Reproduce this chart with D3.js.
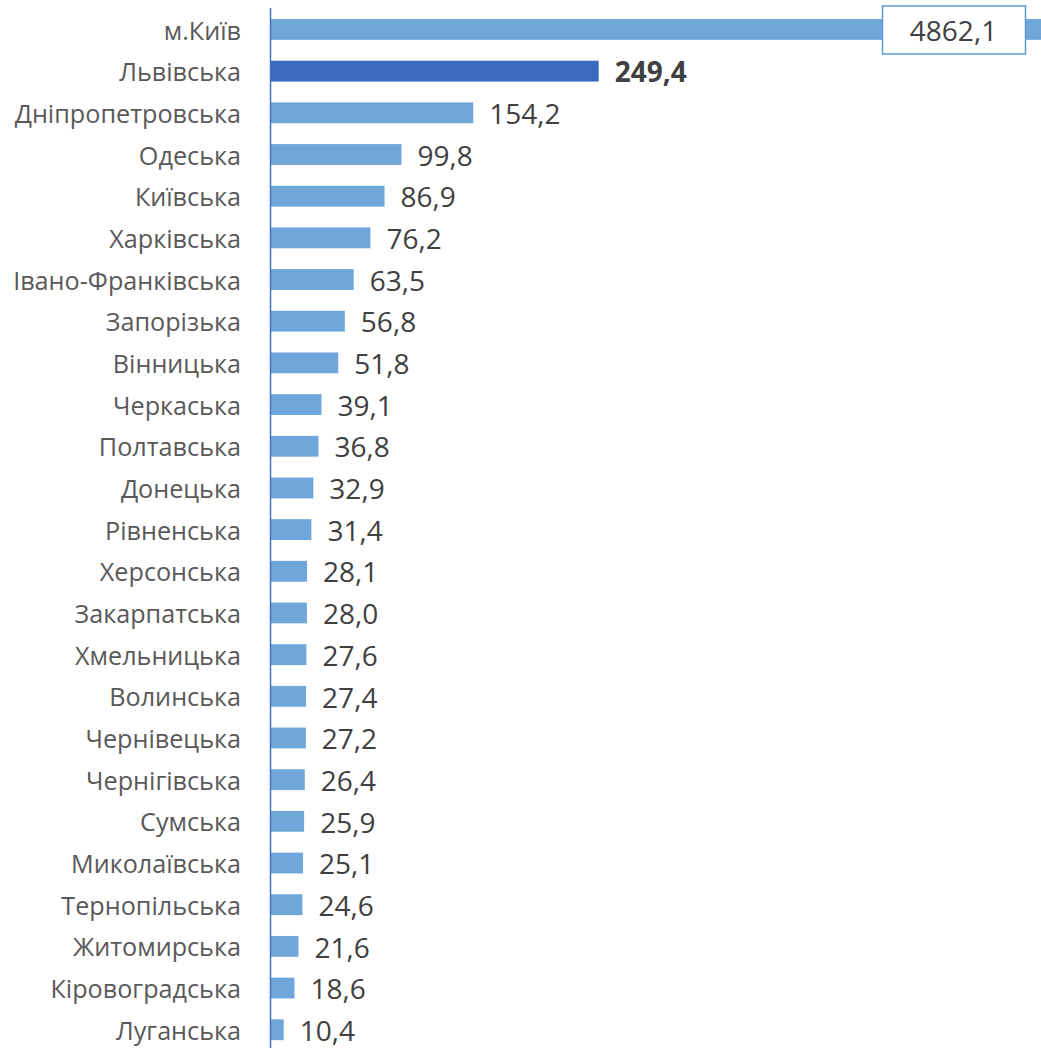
<!DOCTYPE html>
<html>
<head>
<meta charset="utf-8">
<script src="https://cdn.jsdelivr.net/npm/d3@7"></script>
<style>
    body { margin: 0; background: #ffffff; }
    svg { display: block; }
</style>
</head>
<body>
<div id="chartContainer"></div>
<script>
//regions, top to bottom
const regions = ["м.Київ", "Львівська", "Дніпропетровська", "Одеська", "Київська", "Харківська",
    "Івано-Франківська", "Запорізька", "Вінницька", "Черкаська", "Полтавська", "Донецька",
    "Рівненська", "Херсонська", "Закарпатська", "Хмельницька", "Волинська", "Чернівецька",
    "Чернігівська", "Сумська", "Миколаївська", "Тернопільська", "Житомирська", "Кіровоградська",
    "Луганська"];
const values = [4862.1, 249.4, 154.2, 99.8, 86.9, 76.2, 63.5, 56.8, 51.8, 39.1, 36.8, 32.9,
    31.4, 28.1, 28.0, 27.6, 27.4, 27.2, 26.4, 25.9, 25.1, 24.6, 21.6, 18.6, 10.4];
const highlighted = ["Львівська"];
const boxed = ["м.Київ"];

DrawChart();

function DrawChart() {
    const width = 1041, height = 1048;
    const axisX = 270;

    const rows = regions.map((r, i) => ({ region: r, value: values[i] }));

    const fmt = d3.formatLocale({ decimal: ",", thousands: " ", grouping: [3] }).format(".1f");

    //the value axis is cut at the right edge, Kyiv runs off the chart
    const x = d3.scaleLinear()
        .domain([0, 585])
        .range([axisX, width])
        .clamp(true);

    const y = d3.scaleBand()
        .domain(regions)
        .range([-1.8, 1061])
        .padding(0.5);

    let svg = d3.select("#chartContainer")
        .append("svg")
        .attr("width", width)
        .attr("height", height);

    //bars
    svg.selectAll(".bar")
        .data(rows)
        .join("rect")
        .attr("class", "bar")
        .attr("x", x(0))
        .attr("y", d => y(d.region))
        .attr("width", d => x(d.value) - x(0))
        .attr("height", y.bandwidth())
        .attr("fill", d => highlighted.includes(d.region) ? "#3a69be" : "#70a7db");

    //category axis
    let axis = svg.append("g")
        .attr("transform", `translate(${axisX},0)`)
        .call(d3.axisLeft(y).tickSize(0).tickPadding(29));
    axis.select(".domain").remove();
    axis.selectAll("text")
        .attr("font-family", "Open Sans")
        .attr("font-size", 25.2)
        .attr("dy", "0.4em")
        .attr("fill", "#595959");
    axis.append("line")
        .attr("x1", 0.5).attr("x2", 0.5)
        .attr("y1", 8).attr("y2", height)
        .attr("stroke", "#4472c4")
        .attr("stroke-width", 1.5);

    //plain value labels
    svg.selectAll(".val")
        .data(rows.filter(d => !boxed.includes(d.region)))
        .join("text")
        .attr("class", "val")
        .attr("x", d => x(d.value) + 16)
        .attr("y", d => y(d.region) + y.bandwidth() / 2)
        .attr("dy", "0.4em")
        .attr("font-family", "Open Sans")
        .attr("font-size", 28)
        .attr("font-weight", d => highlighted.includes(d.region) ? "bold" : "normal")
        .attr("fill", "#404040")
        .text(d => fmt(d.value));

    //boxed label for the value that runs off the axis
    const boxW = 143, boxH = 48;
    let box = svg.selectAll(".box")
        .data(rows.filter(d => boxed.includes(d.region)))
        .join("g")
        .attr("class", "box")
        .attr("transform", d => `translate(${x(d.value) - 16 - boxW},${y(d.region) + y.bandwidth() / 2 - boxH / 2})`);
    box.append("rect")
        .attr("x", 0.5).attr("y", 0.5)
        .attr("width", boxW).attr("height", boxH)
        .attr("fill", "#ffffff")
        .attr("stroke", "#5b9bd5")
        .attr("stroke-width", 1.5);
    box.append("text")
        .attr("x", boxW / 2)
        .attr("y", boxH / 2)
        .attr("dy", "0.4em")
        .attr("text-anchor", "middle")
        .attr("font-family", "Open Sans")
        .attr("font-size", 28)
        .attr("fill", "#404040")
        .text(d => fmt(d.value));
}
</script>
</body>
</html>
